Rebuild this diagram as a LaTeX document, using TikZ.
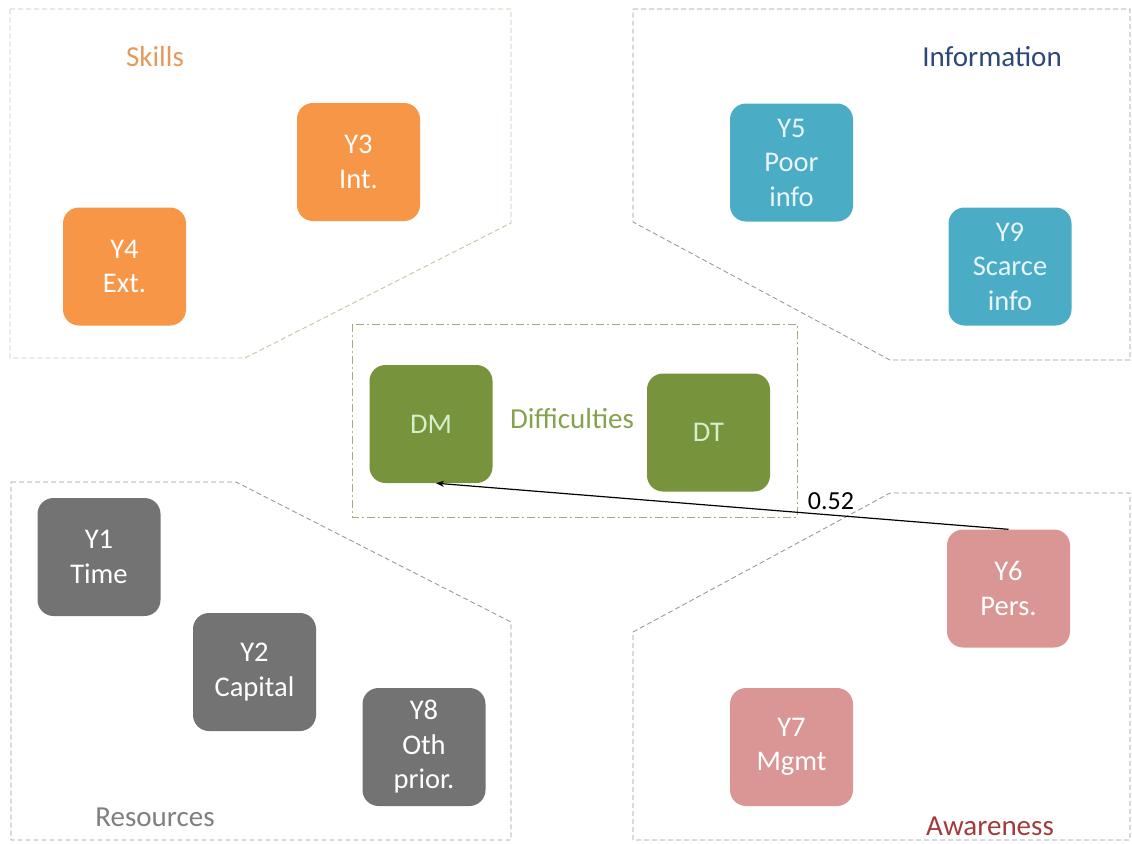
\documentclass[tikz,border=0pt]{standalone}
\usepackage{fontspec}
\setmainfont{Carlito}
\usetikzlibrary{arrows.meta}
\definecolor{skillfill}{HTML}{F79646}
\definecolor{infofill}{HTML}{4BACC6}
\definecolor{resfill}{HTML}{737373}
\definecolor{awarefill}{HTML}{D99694}
\definecolor{difffill}{HTML}{77933C}
\definecolor{skilltxt}{HTML}{E39A5E}
\definecolor{infotxt}{HTML}{2C4877}
\definecolor{difftxt}{HTML}{86A24E}
\definecolor{restxt}{HTML}{7F7F7F}
\definecolor{awaretxt}{HTML}{A33B3B}
\definecolor{skillline}{HTML}{C9C2A6}
\definecolor{groupline}{HTML}{9A9A9A}
\definecolor{diffline}{HTML}{A8A878}
\tikzset{
  factor/.style={rectangle, rounded corners=16pt, minimum width=123pt,
    minimum height=118pt, inner sep=0pt, align=center,
    font=\fontsize{28.5}{34.5}\selectfont},
  grouplabel/.style={font=\fontsize{29}{32}\selectfont},
  groupedge/.style={draw=groupline, line width=0.9pt, dash pattern=on 5pt off 3pt},
}
\begin{document}
\begin{tikzpicture}[x=1pt,y=-1pt]
\useasboundingbox (0,0) rectangle (1132,843);

% group outlines
\draw[groupedge, draw=skillline] (10,9) -- (511,9) -- (511,223) -- (245,358) -- (10,358) -- cycle;
\draw[groupedge] (633,9) -- (1130,9) -- (1130,360) -- (890,360) -- (633,222) -- cycle;
\draw[groupedge] (11,482) -- (236,482) -- (511,622) -- (511,840) -- (11,840) -- cycle;
\draw[groupedge] (633,840) -- (633,632) -- (890,493) -- (1130,493) -- (1130,840) -- cycle;
\draw[draw=diffline, line width=0.9pt, dash pattern=on 8pt off 3pt on 2pt off 3pt]
  (352,324) rectangle (797,517);

% group titles
\node[grouplabel, text=skilltxt] (tskills) at (155,57) {Skills};
\node[grouplabel, text=infotxt] (tinfo) at (992,57) {Information};
\node[grouplabel, text=difftxt] (tdiff) at (572,419) {Difficulties};
\node[grouplabel, text=restxt] (tres) at (155,817) {Resources};
\node[grouplabel, text=awaretxt] (taware) at (990,826) {Awareness};

% skills
\node[factor, fill=skillfill, text=white] (Y3) at (358.5,162) {Y3\\Int.};
\node[factor, fill=skillfill, text=white] (Y4) at (124.5,266.5) {Y4\\Ext.};
% information
\node[factor, fill=infofill, text=white!88!infofill] (Y5) at (791.5,162.5) {Y5\\Poor\\info};
\node[factor, fill=infofill, text=white!88!infofill] (Y9) at (1010,266.5) {Y9\\Scarce\\info};
% difficulties
\node[factor, fill=difffill, text=green!10!white!85!difffill] (DM) at (431,424) {DM};
\node[factor, fill=difffill, text=green!10!white!85!difffill] (DT) at (708.5,432.5) {DT};
% resources
\node[factor, fill=resfill, text=white] (Y1) at (99,557) {Y1\\Time};
\node[factor, fill=resfill, text=white] (Y2) at (254.5,672) {Y2\\Capital};
\node[factor, fill=resfill, text=white] (Y8) at (424,747) {Y8\\Oth\\prior.};
% awareness
\node[factor, fill=awarefill, text=white] (Y6) at (1008.5,588.5) {Y6\\Pers.};
\node[factor, fill=awarefill, text=white] (Y7) at (791.5,747) {Y7\\Mgmt};

% path coefficient
\draw[line width=1.2pt, -{Stealth[length=8pt,width=6pt]}] (Y6.north) --
  node[pos=0.31, above=1pt, font=\fontsize{26}{30}\selectfont] (coef) {0.52}
  ([xshift=5pt]DM.south);
\end{tikzpicture}
\end{document}
